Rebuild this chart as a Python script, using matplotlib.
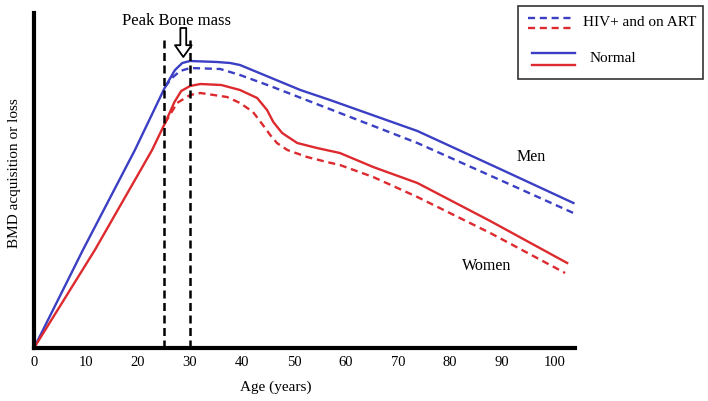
import matplotlib
matplotlib.use("Agg")
import matplotlib.pyplot as plt
from matplotlib.lines import Line2D
from matplotlib.patches import Rectangle

plt.rcParams['font.family'] = ['Liberation Serif', 'DejaVu Serif']

# ---- data ----
men_normal_age = [0, 9.4, 19.4, 25.2, 27.1, 28.5, 30, 35.2, 37.7, 39.6, 51.2, 56.9, 73.7, 89.6, 103.7]
men_normal = [0, 98, 198, 261, 278, 285, 287, 286, 285, 283, 258, 248, 217, 179, 145]

men_hiv_age = [25.2, 26.5, 28.1, 30, 35.8, 39.6, 45.4, 58.8, 73.7, 89.6, 103.7]
men_hiv = [261, 270, 277, 280, 279, 273, 262, 235, 205, 168, 135]

women_normal_age = [0, 11.7, 22.7, 25.2, 27, 28.3, 30, 32, 36, 39.6, 42.9, 44.8, 46, 47.7,
                    50.6, 54.4, 58.8, 65.2, 73.7, 87.7, 102.5]
women_normal = [0, 98, 198, 225, 246, 257, 262, 264, 263, 258, 250, 238, 226, 215,
                205, 200, 195, 181, 165, 127, 85]

women_hiv_age = [25.2, 27.5, 30, 32, 37.1, 39.6, 42.1, 44, 45.4, 46.7, 48.7, 52.5, 56.3,
                 58.8, 65.2, 73.7, 87.7, 102.1]
women_hiv = [225, 245, 253, 255, 251, 245, 236, 223, 213, 205, 198, 191, 186,
             183, 171, 151, 115, 75]

peak_lines = [25, 30]
x_ticks = [0, 10, 20, 30, 40, 50, 60, 70, 80, 90, 100]

BLUE = '#3b3fc4'
RED = '#dd2a2e'

W, H = 708, 401
fig = plt.figure(figsize=(W / 100, H / 100), dpi=100)
ax = fig.add_axes([34 / W, (H - 348) / H, (575 - 34) / W, (348 - 13) / H])
ax.set_xlim(0, 104)
ax.set_ylim(0, 335)

for s in ['top', 'right']:
    ax.spines[s].set_visible(False)
for s in ['left', 'bottom']:
    ax.spines[s].set_linewidth(3.0)
    ax.spines[s].set_color('black')

ax.set_yticks([])
ax.set_xticks(x_ticks)
ax.set_xticklabels([str(t) for t in x_ticks], fontsize=10.5)
ax.tick_params(axis='x', length=0, pad=6)

lw = 1.7
dash = (0, (3.0, 2.0))
ax.plot(men_hiv_age, men_hiv, color=BLUE, lw=lw, ls=dash)
ax.plot(women_hiv_age, women_hiv, color=RED, lw=lw, ls=dash)
ax.plot(men_normal_age, men_normal, color=BLUE, lw=lw, solid_joinstyle='round')
ax.plot(women_normal_age, women_normal, color=RED, lw=lw, solid_joinstyle='round')

for xv in peak_lines:
    ax.plot([xv, xv], [0, 310], color='black', lw=1.8, ls=(0, (3.2, 1.8)))

ax.annotate('', xy=(28.7, 291), xytext=(28.7, 320),
            arrowprops=dict(arrowstyle='simple,head_width=1.2,head_length=0.85,tail_width=0.42',
                            fc='white', ec='black', lw=1.3, shrinkA=0, shrinkB=0,
                            mutation_scale=10))

ax.text(27.3, 327, 'Peak Bone mass', ha='center', va='center', fontsize=12)
ax.text(95.6, 191, 'Men', ha='center', va='center', fontsize=11.5)
ax.text(87.1, 82, 'Women', ha='center', va='center', fontsize=11.5)

fig.text(276 / W, 1 - 387 / H, 'Age (years)', ha='center', va='center', fontsize=11)
fig.text(15 / W, 1 - 173 / H, 'BMD acquisition or loss', ha='center', va='center',
         rotation=90, fontsize=11)

# legend box
def fx(px):
    return px / W

def fy(py):
    return 1 - py / H

fig.add_artist(Rectangle((fx(518), fy(79)), fx(703) - fx(518), fy(6) - fy(79),
                         transform=fig.transFigure, fill=False, ec='#333333', lw=1.2))
fig.add_artist(Line2D([fx(528), fx(572)], [fy(18), fy(18)], transform=fig.transFigure,
                      color=BLUE, lw=lw, ls=dash))
fig.add_artist(Line2D([fx(528), fx(572)], [fy(28), fy(28)], transform=fig.transFigure,
                      color=RED, lw=lw, ls=dash))
fig.add_artist(Line2D([fx(532), fx(575)], [fy(53), fy(53)], transform=fig.transFigure,
                      color=BLUE, lw=lw))
fig.add_artist(Line2D([fx(532), fx(575)], [fy(65), fy(65)], transform=fig.transFigure,
                      color=RED, lw=lw))
fig.text(fx(583), fy(23), 'HIV+ and on ART', ha='left', va='center', fontsize=11)
fig.text(fx(590), fy(58), 'Normal', ha='left', va='center', fontsize=11)

fig.savefig('out.png', dpi=100, facecolor='white')
